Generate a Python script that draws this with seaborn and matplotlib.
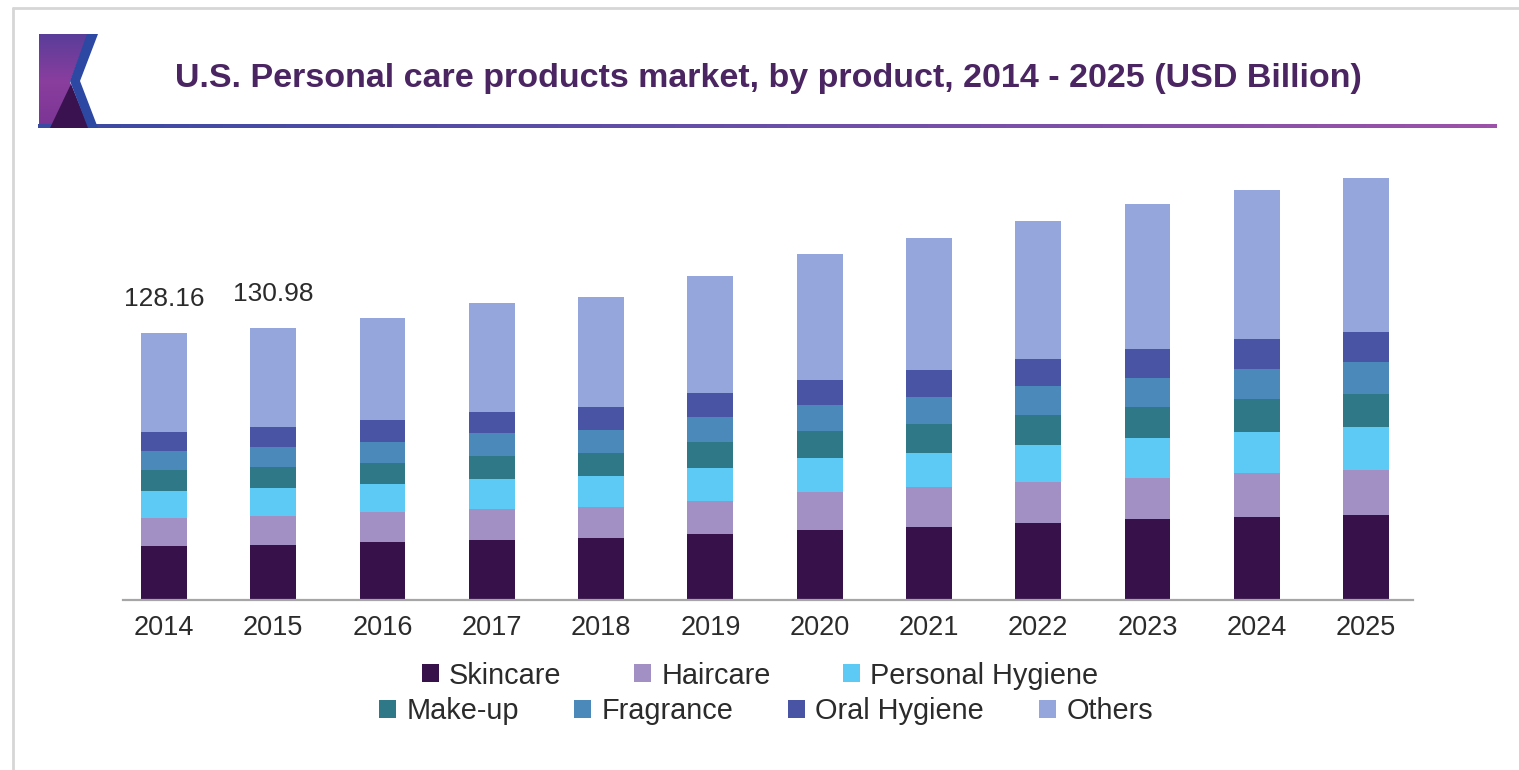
import numpy as np
import pandas as pd
import matplotlib
matplotlib.use("Agg")
import matplotlib.pyplot as plt
from matplotlib.patches import Polygon, Patch
from matplotlib.lines import Line2D
import seaborn as sns

# ---------------- data ----------------
years = ["2014", "2015", "2016", "2017", "2018", "2019",
         "2020", "2021", "2022", "2023", "2024", "2025"]
categories = ["Skincare", "Haircare", "Personal Hygiene", "Make-up",
              "Fragrance", "Oral Hygiene", "Others"]
skincare = [26.2, 26.5, 27.7, 28.7, 29.7, 31.9, 33.8, 35.2, 37.0, 38.8, 39.9, 40.9]
haircare = [13.2, 13.9, 14.4, 14.9, 15.0, 15.7, 18.0, 18.9, 19.6, 20.0, 21.3, 21.6]
personal_hygiene = [12.8, 13.3, 13.6, 14.8, 14.9, 16.1, 16.5, 16.8, 17.9, 18.9, 19.5, 20.7]
makeup = [10.1, 10.2, 10.4, 10.9, 11.3, 12.3, 12.8, 13.6, 14.6, 15.2, 16.1, 15.7]
fragrance = [9.3, 9.8, 10.1, 10.8, 10.9, 12.0, 12.8, 13.3, 13.7, 13.9, 14.4, 15.5]
oral_hygiene = [9.4, 9.6, 10.4, 10.4, 11.1, 11.3, 11.9, 12.6, 13.1, 14.1, 14.4, 14.4]
others = [47.16, 47.68, 49.2, 52.1, 52.6, 56.5, 60.6, 63.5, 66.5, 69.6, 71.4, 74.2]
label_years = ["2014", "2015"]
label_texts = ["128.16", "130.98"]

colors = ["#37114a", "#a28fc4", "#5ccaf5", "#2f7887", "#4c89bb", "#4955a4", "#95a6dc"]
title = "U.S. Personal care products market, by product, 2014 - 2025 (USD Billion)"

series = [skincare, haircare, personal_hygiene, makeup, fragrance, oral_hygiene, others]
df = pd.DataFrame({c: s for c, s in zip(categories, series)}, index=years)
cum = df.cumsum(axis=1)

# ---------------- style ----------------
sns.set_style("white")
plt.rcParams["font.family"] = ["Liberation Sans", "DejaVu Sans"]

W, H = 1519, 770
fig = plt.figure(figsize=(W / 100, H / 100), dpi=100)
fig.patch.set_facecolor("white")

# decoration axes in pixel coordinates
deco = fig.add_axes([0, 0, 1, 1], zorder=-1)
deco.set_xlim(0, W)
deco.set_ylim(H, 0)
deco.axis("off")
deco.patch.set_visible(False)

# outer border (top and left)
deco.add_line(Line2D([12.5, W], [7.5, 7.5], color="#d6d6d6", lw=2))
deco.add_line(Line2D([12.5, 12.5], [7.5, H], color="#d6d6d6", lw=2))

# logo
grad = np.linspace(0, 1, 100).reshape(-1, 1)
cmap_logo = matplotlib.colors.LinearSegmentedColormap.from_list("lg", ["#5a3d99", "#8a3e9e", "#7b3594"])
purple_poly = Polygon([(39, 34), (88, 34), (70, 82), (88, 128), (39, 128)], closed=True,
                      facecolor="none", edgecolor="none")
deco.add_patch(purple_poly)
im = deco.imshow(grad, extent=[39, 98, 128, 34], cmap=cmap_logo, aspect="auto", zorder=1)
im.set_clip_path(purple_poly)
deco.add_patch(Polygon([(50, 128), (71, 84), (89, 128)], closed=True,
                       facecolor="#3a1250", edgecolor="none", zorder=2))
deco.add_patch(Polygon([(87, 34), (98, 34), (80, 81), (98, 128), (88, 128), (70, 81)],
                       closed=True, facecolor="#2c48a2", edgecolor="none", zorder=3))

# header line gradient
hgrad = np.linspace(0, 1, 300).reshape(1, -1)
cmap_line = matplotlib.colors.LinearSegmentedColormap.from_list("hl", ["#3a4aa2", "#6a4fa8", "#9c52a8"])
deco.imshow(hgrad, extent=[38, 1497, 128, 124], cmap=cmap_line, aspect="auto", zorder=1)
deco.set_xlim(0, W)
deco.set_ylim(H, 0)

# title
fig.text(768 / W, 1 - 79 / H, title, ha="center", va="center",
         fontsize=24.5, fontweight="bold", color="#4a2562")

# ---------------- bars ----------------
ax = fig.add_axes([123 / W, (H - 600) / H, (1413 - 123) / W, 450 / H])
ax.patch.set_visible(False)
for cat, col in reversed(list(zip(categories, colors))):
    plot_df = pd.DataFrame({"year": years, "value": cum[cat].values})
    sns.barplot(data=plot_df, x="year", y="value", color=col, saturation=1,
                width=0.42, linewidth=0, ax=ax, errorbar=None)

ax.set_xlim(-0.375, 11.43)
ax.set_ylim(0, 450 / 2.08)
ax.set_xlabel("")
ax.set_ylabel("")
ax.set_yticks([])
for s in ["top", "right", "left"]:
    ax.spines[s].set_visible(False)
ax.spines["bottom"].set_color("#a6a6a6")
ax.spines["bottom"].set_linewidth(1.6)
ax.tick_params(axis="x", length=0, pad=11, labelsize=19.5, labelcolor="#2b2b2b")

totals = cum[categories[-1]]
for yr, txt in zip(label_years, label_texts):
    i = years.index(yr)
    ax.annotate(txt, xy=(i, totals[yr]), xytext=(0, 24.5), textcoords="offset points",
                ha="center", va="center", fontsize=19, color="#2b2b2b")

# ---------------- legend ----------------
handles = [Patch(facecolor=c, edgecolor="none", label=l) for l, c in zip(categories, colors)]
leg1 = fig.legend(handles=handles[:3], loc="center", bbox_to_anchor=(760 / W, 1 - 675.5 / H),
                  ncol=3, frameon=False, fontsize=20.8, handlelength=0.6, handleheight=0.6,
                  handletextpad=0.35, columnspacing=2.5, borderpad=0, labelcolor="#2b2b2b")
leg2 = fig.legend(handles=handles[3:], loc="center", bbox_to_anchor=(766 / W, 1 - 711 / H),
                  ncol=4, frameon=False, fontsize=20.8, handlelength=0.6, handleheight=0.6,
                  handletextpad=0.35, columnspacing=1.9, borderpad=0, labelcolor="#2b2b2b")

fig.savefig("out.png", dpi=100, facecolor="white")
